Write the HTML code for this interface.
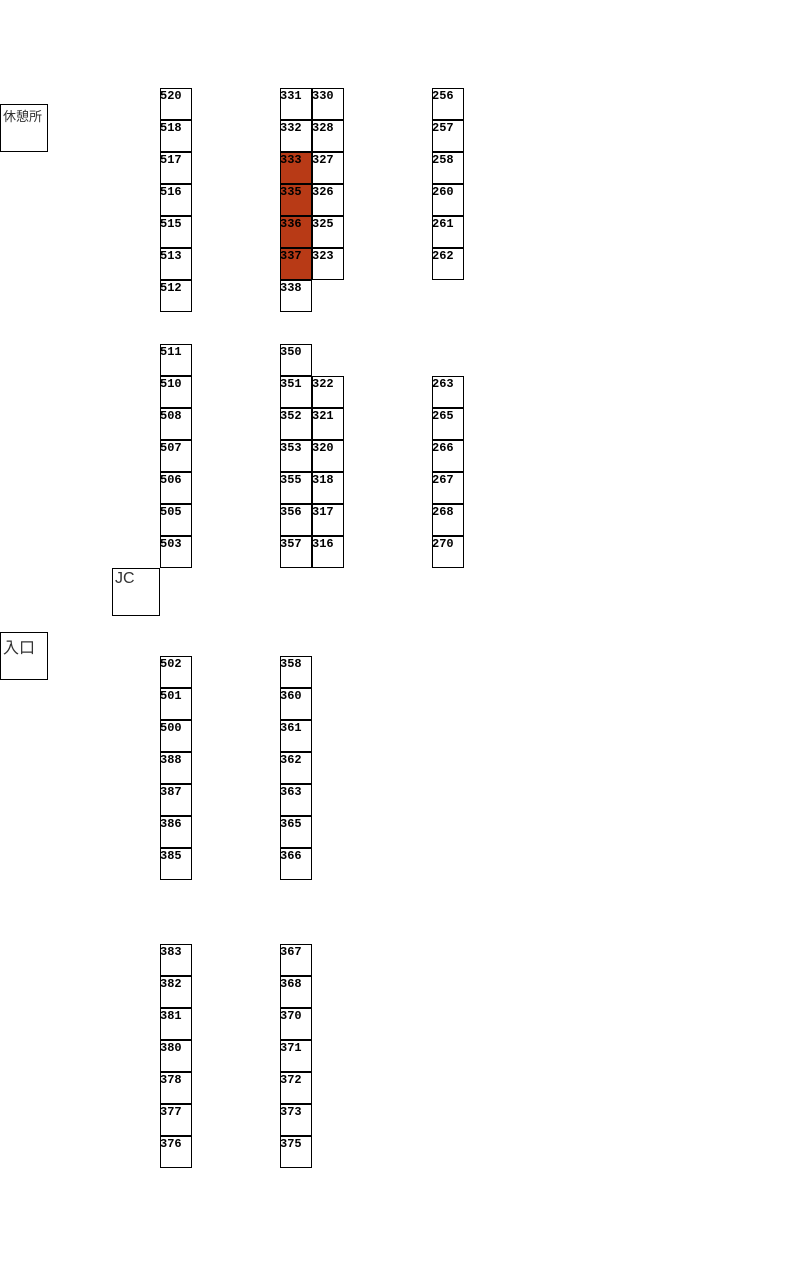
<!DOCTYPE html>
<html><head><meta charset="utf-8"><style>
body{margin:0;width:787px;height:1262px;background:#fff;position:relative;overflow:hidden}
.col{position:absolute;width:32px}
.col div{box-sizing:border-box;width:32px;height:32px;border:1px solid #000;font:bold 12px "Liberation Mono",monospace;line-height:12px;padding:1px 0 0 0;text-indent:-1px;color:#000;overflow:hidden}
.col div.r{background:#b83a16}
.lb{position:absolute;box-sizing:border-box;width:48px;height:48px;border:1px solid #000;font-family:"Liberation Sans","Noto Sans CJK JP",sans-serif;color:#333;padding:1px 2px}
</style></head><body>
<div class="lb" style="left:0;top:104px;font-size:13px">休憩所</div>
<div class="lb" style="left:112px;top:568px;font-size:16px">JC</div>
<div class="lb" style="left:0;top:632px;font-size:16px">入口</div>

<div class="col" style="left:160px;top:88px"><div>520</div><div>518</div><div>517</div><div>516</div><div>515</div><div>513</div><div>512</div></div>
<div class="col" style="left:160px;top:344px"><div>511</div><div>510</div><div>508</div><div>507</div><div>506</div><div>505</div><div>503</div></div>
<div class="col" style="left:160px;top:656px"><div>502</div><div>501</div><div>500</div><div>388</div><div>387</div><div>386</div><div>385</div></div>
<div class="col" style="left:160px;top:944px"><div>383</div><div>382</div><div>381</div><div>380</div><div>378</div><div>377</div><div>376</div></div>

<div class="col" style="left:280px;top:88px"><div>331</div><div>332</div><div class="r">333</div><div class="r">335</div><div class="r">336</div><div class="r">337</div><div>338</div></div>
<div class="col" style="left:280px;top:344px"><div>350</div><div>351</div><div>352</div><div>353</div><div>355</div><div>356</div><div>357</div></div>
<div class="col" style="left:280px;top:656px"><div>358</div><div>360</div><div>361</div><div>362</div><div>363</div><div>365</div><div>366</div></div>
<div class="col" style="left:280px;top:944px"><div>367</div><div>368</div><div>370</div><div>371</div><div>372</div><div>373</div><div>375</div></div>

<div class="col" style="left:312px;top:88px"><div>330</div><div>328</div><div>327</div><div>326</div><div>325</div><div>323</div></div>
<div class="col" style="left:312px;top:376px"><div>322</div><div>321</div><div>320</div><div>318</div><div>317</div><div>316</div></div>

<div class="col" style="left:432px;top:88px"><div>256</div><div>257</div><div>258</div><div>260</div><div>261</div><div>262</div></div>
<div class="col" style="left:432px;top:376px"><div>263</div><div>265</div><div>266</div><div>267</div><div>268</div><div>270</div></div>
</body></html>
